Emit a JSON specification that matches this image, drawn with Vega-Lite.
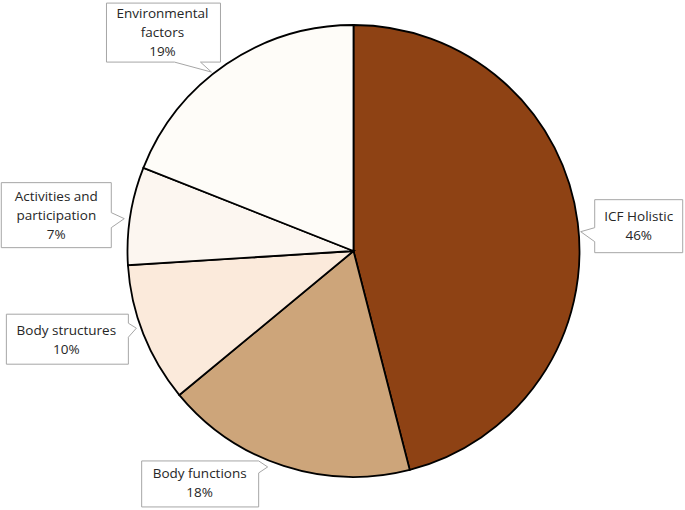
{
  "$schema": "https://vega.github.io/schema/vega-lite/v6.json",
  "width": 663,
  "height": 502,
  "autosize": {"type": "none"},
  "padding": {"left": 22, "top": 0, "right": 0, "bottom": 8},
  "background": "white",
  "config": {"view": {"stroke": null}},
  "data": {
    "values": [
      {"category": "ICF Holistic", "pct": 46, "order": 1},
      {"category": "Body functions", "pct": 18, "order": 2},
      {"category": "Body structures", "pct": 10, "order": 3},
      {"category": "Activities and participation", "pct": 7, "order": 4},
      {"category": "Environmental factors", "pct": 19, "order": 5}
    ]
  },
  "layer": [
    {
      "mark": {"type": "arc", "outerRadius": 226, "stroke": "#000000", "strokeWidth": 1.8},
      "encoding": {
        "theta": {"field": "pct", "type": "quantitative", "stack": true},
        "order": {"field": "order", "type": "quantitative", "sort": "ascending"},
        "color": {
          "field": "category",
          "type": "nominal",
          "legend": null,
          "scale": {
            "domain": ["ICF Holistic", "Body functions", "Body structures", "Activities and participation", "Environmental factors"],
            "range": ["#8E4214", "#CDA57A", "#FBEADB", "#FCF6F0", "#FEFCF8"]
          }
        }
      }
    },
    {
      "transform": [
        {"stack": "pct", "groupby": [], "sort": [{"field": "order", "order": "ascending"}], "as": ["s0", "s1"]},
        {"calculate": "(datum.s0 + datum.s1) * PI / 100", "as": "mid"},
        {"calculate": "sin(datum.mid)", "as": "ax"},
        {"calculate": "cos(datum.mid)", "as": "ay"}
      ],
      "layer": [
        {
          "mark": {"type": "point", "filled": true, "fill": "white", "stroke": "#a6a6a6", "strokeWidth": 1, "size": 4, "opacity": 1},
          "encoding": {
            "x": {"field": "ax", "type": "quantitative", "scale": {"domain": [-1.46681, 1.46681], "nice": false, "zero": false}, "axis": null},
            "y": {"field": "ay", "type": "quantitative", "scale": {"domain": [-1.11062, 1.11062], "nice": false, "zero": false}, "axis": null},
            "shape": {
              "field": "category",
              "type": "nominal",
              "legend": null,
              "scale": {
                "domain": ["ICF Holistic", "Body functions", "Body structures", "Activities and participation", "Environmental factors"],
                "range": [
                  "M17,-23H105V30H17V19L3,9L17,5Z",
                  "M-142,-5H-25L-16,1L-25,7V41H-142Z",
                  "M-137,-20H-15V-11L-7,-6L-15,3V30H-137Z",
                  "M-129,-33H-19V-3L-6,3L-19,12V32H-129Z",
                  "M-120,-61H-6V-2H-26L-15,8L-52,-2H-120Z"
                ]
              }
            }
          }
        },
        {
          "transform": [
            {"calculate": "datum.ax + [61, -84, -77, -74, -64][datum.order - 1] / 226", "as": "tx"},
            {"calculate": "datum.ay - [-5.5, 8.5, -3.5, -19, -50][datum.order - 1] / 226", "as": "ty"},
            {"calculate": "(datum.category == 'Environmental factors' ? 'Environmental\\nfactors' : datum.category == 'Activities and participation' ? 'Activities and\\nparticipation' : datum.category) + '\\n' + datum.pct + '%'", "as": "txt"}
          ],
          "mark": {"type": "text", "font": "Open Sans", "fontSize": 13.5, "lineBreak": "\n", "lineHeight": 19, "align": "center", "baseline": "middle", "color": "#262626"},
          "encoding": {
            "x": {"field": "tx", "type": "quantitative", "scale": {"domain": [-1.46681, 1.46681], "nice": false, "zero": false}, "axis": null},
            "y": {"field": "ty", "type": "quantitative", "scale": {"domain": [-1.11062, 1.11062], "nice": false, "zero": false}, "axis": null},
            "text": {"field": "txt"}
          }
        }
      ]
    }
  ]
}
